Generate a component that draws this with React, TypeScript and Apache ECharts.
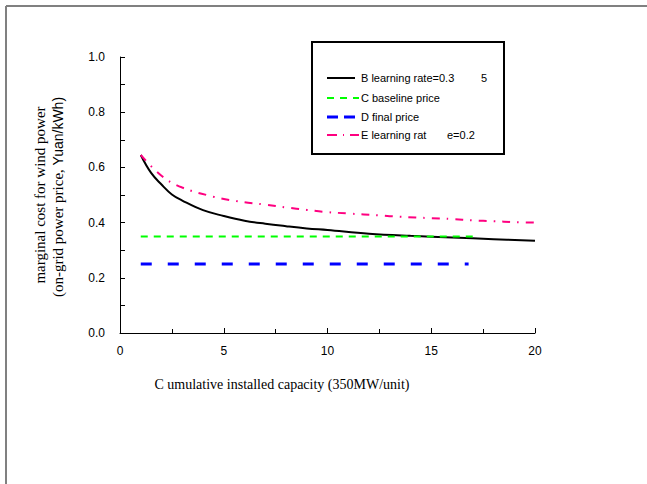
import React, { useEffect, useRef } from "react";
import * as echarts from "echarts";

const xB = [1, 1.5, 2, 2.5, 3, 4, 5, 6, 7, 8, 9, 10, 12, 14, 16, 18, 20];
const yB = [0.645, 0.58, 0.538, 0.502, 0.48, 0.445, 0.424, 0.407, 0.396, 0.387, 0.379, 0.373, 0.36, 0.352, 0.346, 0.34, 0.334];

const xC = [1, 17];
const yC = [0.35, 0.35];

const xD = [1, 16.8];
const yD = [0.25, 0.25];

const xE = [1, 2, 3, 4.5, 5.6, 7, 8, 9, 10, 11, 12.5, 13.5, 15, 16, 17, 18, 19, 20];
const yE = [0.645, 0.57, 0.527, 0.494, 0.478, 0.465, 0.455, 0.446, 0.438, 0.433, 0.426, 0.421, 0.416, 0.413, 0.408, 0.405, 0.402, 0.4];

const legendLabels = ["B learning rate=0.3", "C baseline price", "D final price", "E learning rat"];
const legendExtra = ["5", "", "", "e=0.2"];

const xTicks = { min: 0, max: 20, interval: 5 };
const yTicks = { min: 0, max: 1, interval: 0.2 };

const pair = (xs: number[], ys: number[]) => xs.map((x, i) => [x, ys[i]]);

const COLORS = { B: "#000000", C: "#00ff00", D: "#0000ff", E: "#ff0080" };

export default function App() {
  const ref = useRef<HTMLDivElement>(null);
  useEffect(() => {
    if (!ref.current) return;
    const chart = echarts.init(ref.current, undefined, { renderer: "svg" });
    const sans = "Liberation Sans, Arial, sans-serif";
    const serif = "Liberation Serif, Times New Roman, serif";
    const legendRows = [78, 98, 117, 135];
    const legendStyles: any[] = [
      { stroke: COLORS.B, lineWidth: 2 },
      { stroke: COLORS.C, lineWidth: 2, lineDash: [7, 6] },
      { stroke: COLORS.D, lineWidth: 3, lineDash: [11, 6] },
      { stroke: COLORS.E, lineWidth: 2, lineDash: [10, 6, 1, 6] },
    ];
    const legendGraphics: any[] = [];
    legendLabels.forEach((lab, i) => {
      legendGraphics.push({
        type: "line",
        shape: { x1: 327, y1: legendRows[i], x2: i === 1 || i === 3 ? 359 : 355, y2: legendRows[i] },
        style: legendStyles[i],
      });
      legendGraphics.push({
        type: "text",
        x: 361,
        y: legendRows[i],
        style: { text: lab, font: `11px ${sans}`, fill: "#000", textVerticalAlign: "middle" },
      });
      if (legendExtra[i]) {
        legendGraphics.push({
          type: "text",
          x: i === 0 ? 481 : 447,
          y: legendRows[i],
          style: { text: legendExtra[i], font: `11px ${sans}`, fill: "#000", textVerticalAlign: "middle" },
        });
      }
    });

    chart.setOption({
      animation: false,
      backgroundColor: "#ffffff",
      grid: { left: 120, right: 112, top: 57, bottom: 151, containLabel: false },
      xAxis: {
        type: "value",
        min: xTicks.min,
        max: xTicks.max,
        interval: xTicks.interval,
        axisLine: { lineStyle: { color: "#000", width: 1 } },
        axisTick: { inside: true, length: 5, lineStyle: { color: "#000" } },
        minorTick: { show: true, splitNumber: 2, length: 4, lineStyle: { color: "#000" } },
        splitLine: { show: false },
        axisLabel: { color: "#000", fontSize: 12, fontFamily: sans, margin: 12 },
      },
      yAxis: {
        type: "value",
        min: yTicks.min,
        max: yTicks.max,
        interval: yTicks.interval,
        axisLine: { show: true, lineStyle: { color: "#000", width: 1 } },
        axisTick: { show: true, inside: true, length: 5, lineStyle: { color: "#000" } },
        minorTick: { show: true, splitNumber: 2, length: 5, lineStyle: { color: "#000" } },
        splitLine: { show: false },
        axisLabel: {
          color: "#000",
          fontSize: 12,
          fontFamily: sans,
          margin: 15,
          formatter: (v: number) => v.toFixed(1),
        },
      },
      series: [
        {
          name: "B",
          type: "line",
          data: pair(xB, yB),
          smooth: 0.4,
          showSymbol: false,
          lineStyle: { color: COLORS.B, width: 2 },
        },
        {
          name: "C",
          type: "line",
          data: pair(xC, yC),
          showSymbol: false,
          lineStyle: { color: COLORS.C, width: 2, type: [7, 6] },
        },
        {
          name: "D",
          type: "line",
          data: pair(xD, yD),
          showSymbol: false,
          lineStyle: { color: COLORS.D, width: 3, type: [11, 16] },
        },
        {
          name: "E",
          type: "line",
          data: pair(xE, yE),
          smooth: 0.4,
          showSymbol: false,
          lineStyle: { color: COLORS.E, width: 2, type: [8, 7, 1.5, 7] },
        },
      ],
      graphic: [
        { type: "line", shape: { x1: 6, y1: 6, x2: 647, y2: 6 }, style: { stroke: "#808080", lineWidth: 2 } },
        { type: "line", shape: { x1: 6, y1: 6, x2: 6, y2: 484 }, style: { stroke: "#808080", lineWidth: 2 } },
        {
          type: "rect",
          shape: { x: 312, y: 42, width: 192, height: 112 },
          style: { fill: "none", stroke: "#000", lineWidth: 2 },
        },
        ...legendGraphics,
        {
          type: "text",
          x: 282,
          y: 384,
          style: {
            text: "C umulative installed capacity (350MW/unit)",
            font: `14px ${serif}`,
            fill: "#000",
            textAlign: "center",
            textVerticalAlign: "middle",
          },
        },
        {
          type: "text",
          x: 40,
          y: 195,
          rotation: Math.PI / 2,
          style: {
            text: "marginal cost for wind power",
            font: `15px ${serif}`,
            fill: "#000",
            textAlign: "center",
            textVerticalAlign: "middle",
          },
        },
        {
          type: "text",
          x: 58,
          y: 197,
          rotation: Math.PI / 2,
          style: {
            text: "{a|(on-grid power price, }{b|Yuan/kWh)}",
            rich: {
              a: { fontFamily: serif, fontSize: 15, fill: "#000" },
              b: { fontFamily: sans, fontSize: 14, fill: "#000" },
            },
            textAlign: "center",
            textVerticalAlign: "middle",
          },
        },
      ],
    });
    return () => chart.dispose();
  }, []);
  return (
    <div
      ref={ref}
      style={{ position: "fixed", left: 0, top: 0, width: 647, height: 484 }}
    />
  );
}
